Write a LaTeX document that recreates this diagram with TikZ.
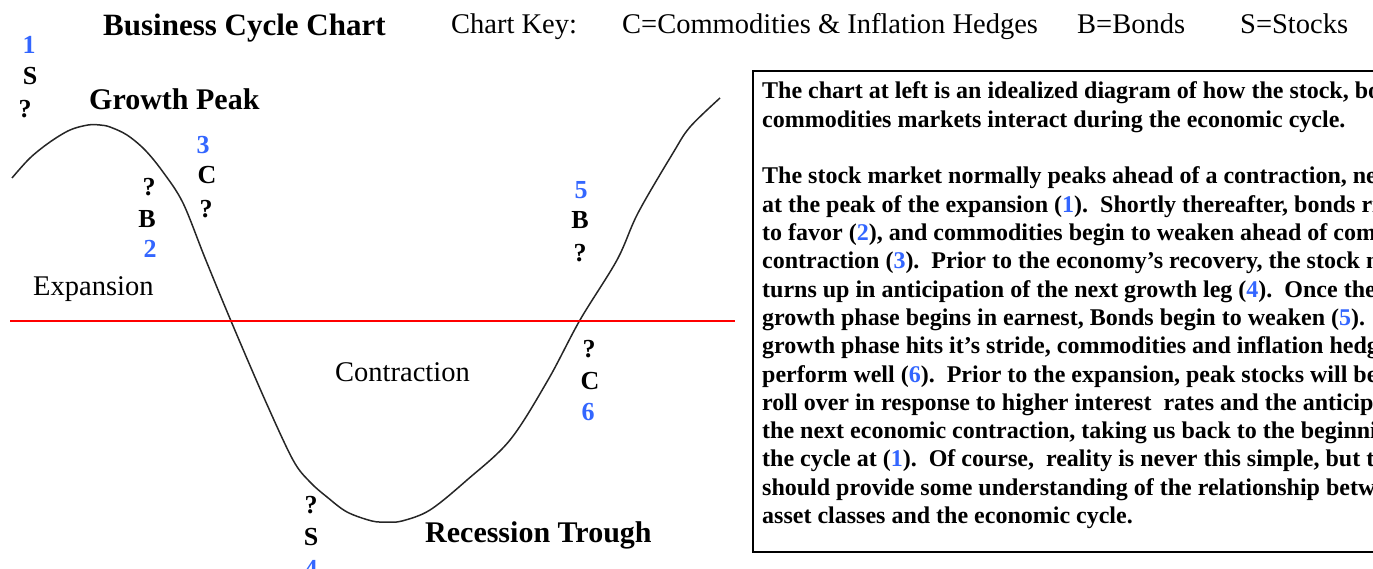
\documentclass[tikz,border=0pt]{standalone}
\usepackage{fontspec}
\setmainfont{Liberation Serif}
\usepackage{xcolor}
\usetikzlibrary{positioning}

\definecolor{numblue}{RGB}{51,102,255}
\definecolor{axisred}{RGB}{255,0,0}
\newcommand\nb[1]{\textcolor{numblue}{#1}}

\begin{document}
\begin{tikzpicture}[x=1pt, y=-1pt,
  heading/.style={font=\fontsize{31}{36}\selectfont\bfseries, inner sep=0, anchor=base west},
  keytext/.style={font=\fontsize{28.5}{34}\selectfont, inner sep=0, anchor=base west},
  phase/.style={font=\fontsize{30}{36}\selectfont\bfseries, inner sep=0, anchor=base west},
  region/.style={font=\fontsize{28.5}{34}\selectfont, inner sep=0, anchor=base west},
  sig/.style={font=\fontsize{26}{30}\selectfont\bfseries, inner sep=0},
  num/.style={sig, text=numblue},
  note/.style={font=\fontsize{24}{28}\selectfont\bfseries, inner sep=0, anchor=base west}
]
  \useasboundingbox (0,0) rectangle (1373,569);
  \clip (0,0) rectangle (1373,569);

  % Heading and chart key
  \node[heading] (title) at (103,36) {Business Cycle Chart};
  \node[keytext] (keylabel) at (451,34) {Chart Key:};
  \node[keytext] (keyC) at (622,34) {C=Commodities \& Inflation Hedges};
  \node[keytext] (keyB) at (1077,34) {B=Bonds};
  \node[keytext] (keyS) at (1240,34) {S=Stocks};

  % The cycle curve
  \draw[line width=1.5, black!85] plot[smooth, tension=0.55] coordinates {
    (12,178) (30,158) (50,142) (70,130) (88,125) (100,125) (110,127)
    (127,135) (145,150) (163,172) (183,203) (205,258) (231,321)
    (265,400) (293,460) (310,482) (327,497) (347,512) (372,521)
    (387,522) (402,521) (430,510) (467,480) (510,440) (548,380)
    (580,320) (617,260) (638,213) (673,153) (690,127) (720,98)};

  % Zero line
  \coordinate (axisL) at (10,321);
  \coordinate (axisR) at (735,321);
  \draw[axisred, line width=2] (axisL) -- (axisR);

  % Phase names
  \node[phase] (peak) at (89,110) {Growth Peak};
  \node[phase] (trough) at (425,542) {Recession Trough};
  \node[region] (expansion) at (33,295) {Expansion};
  \node[region] (contraction) at (335,381) {Contraction};

  % Markers 1--6
  \node[num] (n1) at (29,45) {1};
  \node[sig] (s1) at (30,76) {S};
  \node[sig] (q1) at (25,109) {?};

  \node[sig] (q2) at (149,187) {?};
  \node[sig] (b2) at (147,219) {B};
  \node[num] (n2) at (150,249) {2};

  \node[num] (n3) at (203,145) {3};
  \node[sig] (c3) at (207,175) {C};
  \node[sig] (q3) at (206,209) {?};

  \node[sig] (q4) at (311,505) {?};
  \node[sig] (s4) at (311,537) {S};
  \node[num] (n4) at (311,569) {4};

  \node[num] (n5) at (581,190) {5};
  \node[sig] (b5) at (580,220) {B};
  \node[sig] (q5) at (580,253) {?};

  \node[sig] (q6) at (589,349) {?};
  \node[sig] (c6) at (590,381) {C};
  \node[num] (n6) at (588,412) {6};

  % Text box
  \draw[line width=2.6] (753,71) rectangle (1420,552);
  \foreach \k/\txt in {
    0/{The chart at left is an idealized diagram of how the stock, bonds and},
    1/{commodities markets interact during the economic cycle.},
    3/{The stock market normally peaks ahead of a contraction, near},
    4/{at the peak of the expansion (\nb{1}).\ \ Shortly thereafter, bonds rise},
    5/{to favor (\nb{2}), and commodities begin to weaken ahead of coming},
    6/{contraction (\nb{3}).\ \ Prior to the economy’s recovery, the stock market},
    7/{turns up in anticipation of the next growth leg (\nb{4}).\ \ Once the},
    8/{growth phase begins in earnest, Bonds begin to weaken (\nb{5}).},
    9/{growth phase hits it’s stride, commodities and inflation hedges},
    10/{perform well (\nb{6}).\ \ Prior to the expansion, peak stocks will begin},
    11/{roll over in response to higher interest\ \ rates and the anticipation},
    12/{the next economic contraction, taking us back to the beginning},
    13/{the cycle at (\nb{1}).\ \ Of course,\ \ reality is never this simple, but this},
    14/{should provide some understanding of the relationship between},
    15/{asset classes and the economic cycle.}}
    \node[note] (line\k) at (762,99+28.3*\k) {\txt};
\end{tikzpicture}
\end{document}
